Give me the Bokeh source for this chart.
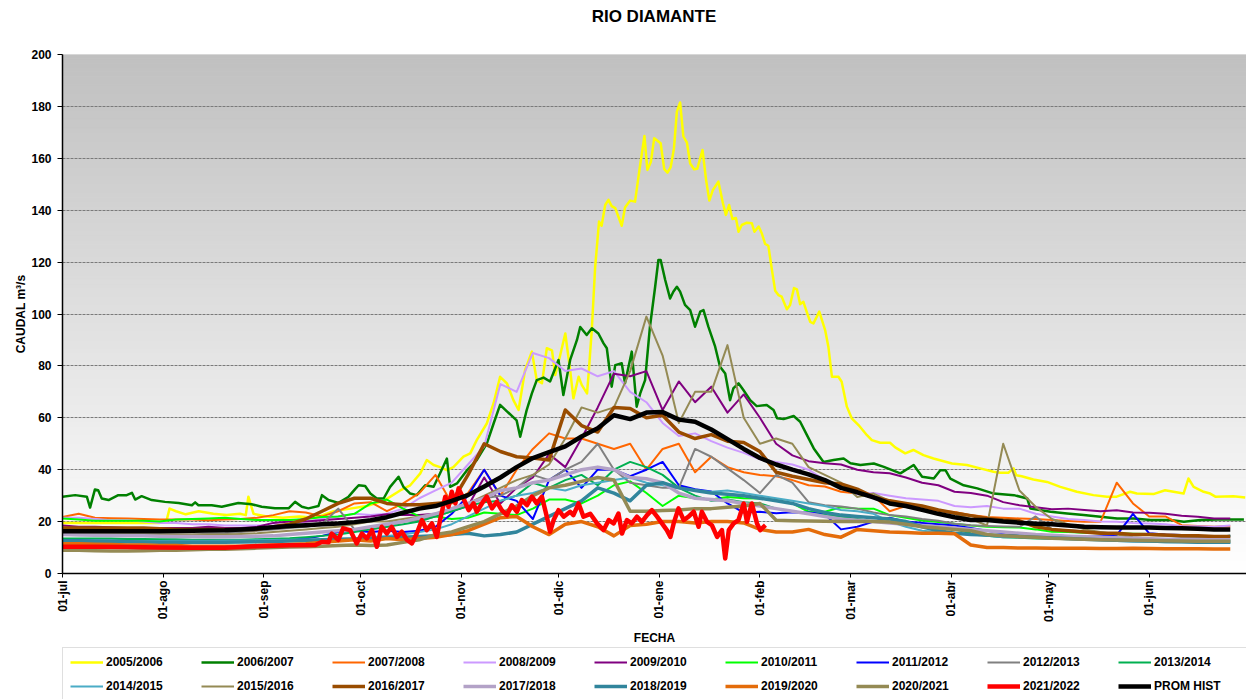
import numpy as np
from bokeh.plotting import figure
from bokeh.models import Range1d, FixedTicker, Legend, LegendItem, Div
from bokeh.layouts import column
from bokeh.embed import file_html
from bokeh.resources import INLINE

# ---------------- data ----------------
TITLE = "RIO DIAMANTE"
MONTH_TICKS = [0, 31, 62, 92, 123, 153, 184, 215, 243, 274, 304, 335]
MONTH_LABELS = ["01-jul", "01-ago", "01-sep", "01-oct", "01-nov", "01-dic",
                "01-ene", "01-feb", "01-mar", "01-abr", "01-may", "01-jun"]
Y_TICKS = list(range(0, 201, 20))

DAYS5 = list(range(0, 361, 5))   # day of hydrological year (0 = 01-jul)

Q_2005 = [(0,19.5),(10,19.5),(20,19.5),(30,19.5),(32,20),(33,25),(35,24),(38,22.8),(42,24),(46.5,23),
          (50.6,22.5),(54.7,23),(56.5,22.5),(57.3,29.6),(58.9,23),(63,22),(68,21.5),(73,22),(78,21.5),
          (83.6,24),(88.7,25),(93.8,26),(99,28),(104.1,32),(107.2,34),(110.3,38.6),(112.3,43.7),
          (114.4,41.8),(116.4,41),(118.5,39.8),(120.5,41),(123.6,45),(125.7,46.3),(127.7,51.4),
          (130.8,57.8),(132.9,65.6),(134.9,75.8),(137,73.3),(139,66.8),(140.6,63),(142.6,78.4),
          (144.7,85.5),(146.2,74.5),(147.8,73.3),(149.3,86.8),(150.9,86),(151.9,76.5),(153.4,84),
          (155,92.5),(156.5,78.4),(157.5,67.5),(159.1,75.8),(160.1,72.6),(161.7,69.4),(162.2,77),
          (163.2,94.5),(164.2,118),(165.4,135.6),(166.2,134),(167.3,142),(168.3,144),(169.3,141.6),
          (170.4,140.8),(172.4,134),(173.4,141),(175,143.7),(176.5,143.3),(178,156.8),(179.4,168.6),
          (180.3,155.5),(181.4,158.7),(182.4,167.7),(184.4,165.8),(185.5,155.8),(186.5,154.5),
          (187.5,156.6),(188.5,163.9),(189.4,178),(190.4,181.5),(191.4,168.4),(192.5,166),(193.5,158),
          (194.7,155.8),(195.7,156),(197.3,163.2),(198.4,151.7),(199.4,143.7),(200.5,147.8),(202.2,151),
          (203.6,142.7),(204.5,138.2),(205.5,142),(206.5,136.6),(207.6,137),(208.4,131.7),(209.4,134.3),
          (211,135.2),(212.5,135),(213.3,131.7),(214.6,133.7),(215.6,131),(216.6,127),(217.6,126.3),
          (218.7,117),(219.7,109),(220.7,107.3),(221.7,106.7),(223.3,101.8),(224.3,103.5),(225.5,110),
          (226.4,109.5),(227.4,103.8),(228.4,104.7),(229.4,100.9),(230.5,97),(231.5,96.4),(233.3,100.9),
          (235.1,93.8),(236.1,87.4),(237.2,75.8),(239.2,75.8),(240.2,73.9),(241.8,64.3),(243.3,59.8),
          (245.4,57.2),(248,53.3),(249.5,51.4),(252.1,50.4),(255.1,50.4),(256.7,48.6),(259.8,46.3),
          (262.3,47.6),(265.4,45.6),(268.5,44.3),(274.2,42.4),(278.8,41.8),(282.9,40.5),(287,39.2),
          (289.1,38.8),(291.6,38.8),(293.2,40.5),(294,37.9),(295.7,37.5),(299.3,36.2),(303.5,35.3),
          (307.6,33.4),(312.7,31.5),(317.8,30.2),(322,29.6),(325,29.6),(329.1,31.5),(331.2,30.8),
          (336.3,30.6),(339.9,32.1),(342.5,31.5),(345.6,30.8),(347.1,36.6),(348.7,33.4),(351.8,31.5),
          (353.8,30.8),(355.4,29.6),(361,29.8),(364.6,29.3)]

Q_2006 = [(0,29.6),(3.9,30.2),(7.5,29.6),(8.5,25.4),(10,32.4),(11,32.1),(12.1,28.9),(14.2,28.3),
          (17.2,30.2),(19.8,30.2),(21.4,31.1),(22.4,28.5),(24.4,29.8),(27.5,28.3),(31.6,27.6),
          (35.8,27.2),(39.9,26.3),(40.9,27.4),(41.9,26.3),(46,26.3),(49.1,25.7),(54.2,27.2),(58.3,26.7),
          (61.4,25.7),(65.5,25.1),(69.7,25.1),(71.7,27.6),(73.8,25.7),(75.8,25.1),(78.9,26),(80,30.2),
          (82,28.3),(85.1,27.2),(88.2,29.6),(90.2,32.5),(91.3,34),(93.3,33.7),(94.9,30.8),(96.9,28.9),
          (99,28.9),(101,33.4),(103.6,37.3),(105.1,33.4),(107.2,30.8),(109.2,30.2),(111.8,34),
          (114.4,33.4),(116.4,38.6),(118.5,44.3),(119.5,33.4),(121.6,34.7),(124.7,39.8),(127.7,43.7),
          (130.8,50.1),(132.9,57.8),(134.9,65),(137,62.5),(140,59),(141.1,52.7),(143.1,63),(144.7,69.4),
          (146.2,74.5),(148.3,75.5),(150.3,74),(152.9,82.3),(154.4,68.8),(156.5,82.3),(158.6,90),
          (159.6,95),(161.6,91.9),(163.2,94.5),(165.2,92.5),(166.8,88.7),(167.8,86.8),(169.3,72),
          (170.4,80.3),(172.4,81),(173.4,73.3),(175.5,85.5),(177,64.3),(178.1,69.4),(179.6,74.5),
          (181.1,95.1),(182.7,110.5),(183.7,120.8),(184.4,120.8),(185.8,113.1),(187.3,106),(188.3,108.6),
          (189.4,110.5),(190.4,108.6),(191.9,103.5),(193.5,101.5),(195,95.1),(196.6,100.9),(197.6,101.5),
          (199.1,95.1),(201.2,87.4),(202.7,79.7),(204.3,77.1),(205.8,66.8),(206.8,71.3),(208.4,73.3),
          (209.9,70.7),(212,66.8),(214,64.5),(217.1,64.9),(219.2,63),(220.3,59.8),(222.3,59.5),
          (225.4,60.7),(227.4,58.5),(229.5,53.3),(231.6,48.2),(234.6,43),(237.7,43.7),(240.8,44.3),
          (242.9,42.5),(246,41.8),(250.1,42.4),(253.2,41.1),(258.3,38.6),(262.4,41.8),(265,37.3),
          (268.6,36.6),(270.6,39.8),(272.2,39.8),(273.7,36.6),(277.8,34),(282,32.8),(287.1,30.8),
          (293.3,30.2),(297.4,28.9),(298.4,25),(304.6,23.8),(309.7,23.1),(314.8,22.5),(320,21.9),
          (325.1,21.2),(330.3,21.2),(335.4,20.6),(341.6,20.6),(345.7,19.9),(350.8,20.6),(356,20.8),
          (364.2,20.8)]

Q_2007 = [21.8, 23, 21.5, 21.3, 21.2, 21, 20.8, 20.8, 20.8, 20.5,
          20.8, 21, 21.5, 22.5, 24, 23.5, 22, 24, 27, 27.5,
          24, 27, 31, 38, 27, 31, 40, 30, 40, 48,
          54, 52, 52, 50, 48, 50, 40, 48, 50, 39,
          45, 41, 39, 38, 37.5, 36, 34, 33.5, 31.5, 30.8,
          30, 24, 26, 25, 24.2, 23.7, 22.5, 21.8, 21.5, 21.2,
          21, 20.6, 20.2, 19.9, 19.9, 35, 27, 22, 22, 18.6,
          18.3, 18, 18.2]
Q_2008 = [21.5, 21.5, 21, 20.5, 20.5, 20, 19.5, 19.5, 19, 19,
          18.5, 18.5, 18.5, 18.5, 19, 20, 21, 22, 23, 22.5,
          23, 25, 29, 32, 35, 42, 49, 73, 70, 85,
          83, 78, 79, 76, 78, 70, 66, 58, 53, 54,
          51, 48.5, 46.5, 44, 43, 42, 40, 36, 33, 30.5,
          31, 30, 29, 28.5, 28, 26, 25.5, 26, 25, 25,
          23, 22, 21, 20.6, 20, 19.9, 19.5, 19.3, 19, 18.3,
          18.2, 18, 18.5]
Q_2009 = [18.5, 18, 18, 17.8, 17.5, 17.5, 17.5, 17.5, 17.5, 18,
          17.5, 17.5, 18, 19.5, 20, 20, 20.5, 21, 21.5, 22,
          22.8, 22.5, 22.5, 23, 24, 26, 37, 27, 33, 37,
          46, 41, 52, 64, 77, 76, 78, 63, 74, 66,
          72, 62, 69, 60, 50, 45.5, 43.3, 42.5, 42, 40,
          39, 38.6, 37, 35, 34, 31.5, 31, 30, 27.5, 26.3,
          25.5, 24.8, 25, 24.5, 24, 24.4, 23.5, 23.4, 23, 22.3,
          21.9, 21.2, 21.2]
Q_2010 = [21.2, 20.8, 20.3, 20.3, 20.3, 20.3, 20, 20.8, 21, 21.2,
          21.5, 21, 20.6, 20.6, 20.6, 21, 21.8, 22, 23, 27,
          28.5, 25, 22, 22, 21, 21.5, 23.5, 23, 22.5, 25,
          28.5, 28.5, 27, 30, 34, 35.5, 31, 26, 30, 29,
          28.5, 29.5, 29, 28.9, 28.2, 27, 23.8, 23.8, 25.5, 25,
          25, 22.5, 21.5, 20.4, 19.8, 19.2, 18.5, 18, 17.8, 17.7,
          17, 16.1, 16, 15.7, 15.5, 15.4, 15.3, 15.2, 14.8, 14.4,
          14.3, 14.1, 14.5]
Q_2011 = [12.8, 12.8, 12.7, 12.7, 12.7, 12.6, 12.6, 12.6, 12.6, 12.5,
          12.5, 12.6, 12.7, 12.8, 13, 13.5, 14.5, 16, 16.5, 16,
          16.5, 16, 16.5, 18, 23, 30, 40, 30, 28, 21,
          36, 40, 33, 40, 40, 37.5, 40, 43, 34, 32.5,
          31.6, 27, 23.5, 23.8, 23.2, 23.6, 23.5, 22.8, 17, 18,
          20, 21.5, 20, 19.5, 19, 18.5, 17.5, 16.5, 15.5, 14.8,
          14.8, 14.8, 14.4, 14.1, 14.4, 14.8, 23, 15.5, 15, 14.8,
          14.5, 14.1, 14.5]
Q_2012 = [15, 15, 15, 15, 15, 15, 15, 15, 15, 15.3,
          15.5, 16, 16.5, 17, 17.5, 18, 19, 25, 17, 17,
          18, 20, 20.5, 22, 24, 27, 29, 30, 33, 38,
          36, 40, 43, 50, 40, 35, 34, 33, 33, 48,
          45, 40.5, 36, 31, 38, 35, 27.5, 26.3, 25.8, 25,
          23.5, 22.5, 22, 21, 20.3, 19.2, 18.6, 18.3, 18.1, 18,
          22, 17, 16.7, 16.3, 15.8, 15.4, 15, 14.8, 14.5, 14.1,
          14, 14, 14]
Q_2013 = [13.5, 13.5, 13.5, 13.5, 13.3, 13.3, 13.2, 13.2, 13, 13,
          13, 13, 13.2, 13.4, 13.6, 14, 14.5, 15, 16, 17,
          18, 19, 20, 22, 24, 26, 27.5, 28, 30, 35,
          33, 36, 38, 34, 40, 43, 41, 38, 33, 30,
          28, 28.5, 27.5, 27, 25, 24, 23, 22.5, 22, 21,
          20, 19.5, 19, 18.5, 18, 17, 15.5, 14.5, 14, 13.8,
          13.5, 13.5, 13.3, 13.3, 13.2, 13.2, 13, 13, 13, 12.9,
          12.8, 12.8, 12.8]
Q_2014 = [12.5, 12.5, 12.5, 12.5, 12.5, 12.5, 12.5, 12.6, 12.6, 12.6,
          12.7, 12.7, 12.8, 12.9, 13, 13.1, 13.2, 13.3, 13.5, 14,
          14.5, 15, 16, 17, 19, 22, 25, 28, 30, 31,
          33, 32, 34, 35, 36, 37, 35, 34, 33, 32,
          31.5, 32, 31, 30, 29, 28, 27, 26, 24.5, 24,
          23, 20, 18, 16.5, 16, 15.5, 15, 14.5, 14, 14,
          13.8, 13.5, 13.2, 13, 12.8, 12.5, 12.3, 12.2, 12, 12,
          11.9, 11.8, 11.8]
Q_2015 = [15, 15, 15, 15, 15, 15, 15, 15, 15, 15,
          15, 15.2, 15.5, 16, 16.5, 17, 17.5, 18, 19, 20,
          20, 21, 22, 23, 25, 27, 30, 33, 36, 38,
          42, 52, 64, 62, 64, 78, 99, 84, 58, 70,
          70, 88, 60, 50, 52, 50, 41, 38, 35, 29.5,
          30.8, 28, 27, 26, 24.5, 23, 21, 18.5, 50, 32,
          25.7, 21, 19, 17, 16, 15, 14, 13.5, 13, 12.8,
          12.5, 12.3, 12.2]
Q_2016 = [17.5, 17.5, 17.5, 17.5, 17.5, 17.5, 17.2, 17, 17, 17,
          17, 17, 17, 18, 19, 21, 24, 27, 29, 29,
          27, 26.5, 26.5, 27, 27.5, 38, 50, 47, 45, 44.5,
          43.7, 63, 57, 54.5, 64, 63.6, 60, 61, 54.5, 52,
          53.5, 51, 50.5, 47, 39, 37.5, 36.2, 35, 34.5, 32.5,
          29.5, 28, 27, 26, 24.5, 23.3, 22.3, 21.2, 20.6, 20.3,
          18, 17, 16.5, 16, 15.5, 15.5, 15, 15, 14.8, 14.5,
          14.5, 14.3, 14.3]
Q_2017 = [15, 14.8, 14.7, 14.6, 14.5, 14.5, 14.4, 14.3, 14.3, 14.2,
          14.2, 14.3, 14.4, 14.5, 15, 15.5, 16, 16.5, 17, 18,
          19, 20, 21.5, 23, 25, 27, 29, 32, 33, 35,
          36, 38, 40, 41, 40, 37, 36.5, 35, 31, 29,
          28.5, 28, 27, 26, 25, 24, 23, 22, 21, 20.5,
          20, 19.5, 19, 18.5, 18, 17.5, 17, 16.5, 16, 15.5,
          15, 14.7, 14.4, 14.2, 14, 13.8, 13.6, 13.4, 13.2, 13.1,
          13, 13, 13]
Q_2018 = [12.5, 12.4, 12.3, 12.2, 12.2, 12.1, 12, 12, 12, 12,
          12, 12.1, 12.2, 12.3, 12.5, 12.7, 13, 13.2, 13.3, 13.5,
          13.8, 14, 14.3, 14.5, 15, 15.5, 14.5, 15, 16, 19,
          22, 25, 28, 33, 31, 28, 34, 35, 33, 32,
          31, 30.5, 30, 29, 28, 27, 25, 23.5, 22.5, 22,
          21.5, 21, 20, 18, 16.5, 15.5, 15, 14.8, 14.5, 14.3,
          14, 13.7, 13.5, 13.2, 13, 12.8, 12.6, 12.5, 12.3, 12.2,
          12, 12, 12]
Q_2019 = [11.5, 11.5, 11.3, 11.2, 11, 11, 10.8, 10.8, 10.5, 10.5,
          10.5, 10.5, 10.8, 11, 11.2, 11.5, 12, 12.5, 13, 12.5,
          13.5, 13, 13.5, 14, 15, 16.5, 19, 21.5, 22, 18,
          15, 19, 20, 18, 14.5, 18.5, 19, 20, 20, 19.5,
          20, 20, 19.5, 17, 16, 16, 17, 15, 14, 17,
          16.5, 16, 15.8, 15.5, 15.5, 15.3, 11, 10, 10, 9.8,
          9.8, 9.7, 9.7, 9.7, 9.6, 9.6, 9.7, 9.6, 9.5, 9.5,
          9.5, 9.4, 9.4]
Q_2020 = [9, 9, 8.8, 8.7, 8.7, 8.8, 9, 9, 9.2, 9.3,
          9.3, 9.5, 9.8, 10, 10.2, 10.3, 10.5, 10.8, 11, 10.8,
          11, 12, 13, 15, 16, 18, 20, 23, 26, 30,
          33, 34, 35.5, 37, 36, 24, 24, 24.3, 24.5, 25,
          25, 25.5, 26, 27, 20.5, 20.3, 20.2, 20.1, 20, 20,
          20, 19.8, 19, 18, 17.5, 17, 16.5, 15, 14.5, 14.2,
          14, 13.6, 13.4, 13.2, 13, 12.9, 12.8, 12.7, 12.6, 12.5,
          12.4, 12.4, 12.4]

R_DAYS = [0, 10, 20, 30, 40, 50, 60, 70, 78, 80, 82, 83, 85, 86.5, 88.7, 90.7, 92.3, 93.8, 95.4, 96.9,
          98.4, 100, 101.5, 103.1, 104.6, 106.2, 107.7, 109.2, 110.8, 112.3, 113.9, 115.4, 116.4, 118, 119,
          120, 121.1, 122.1, 123.6, 125.2, 126.7, 127.7, 129.3, 130.8, 132.4, 133.9, 135.4, 137, 138.5, 140.1,
          141.6, 143.2, 144.7, 146.2, 147.8, 149.3, 150.3, 151.4, 152.9, 154.5, 156.5, 157.5, 159.1, 160.6,
          162.7, 164.8, 166.8, 168.4, 169.9, 171.4, 172.5, 174, 175.5, 177.1, 178.6, 180.2, 181.7, 183.3,
          184.8, 186.3, 187.4, 188.4, 189.9, 191.5, 193, 194.6, 196.1, 197.1, 198.7, 200.2, 201.8, 203.3,
          204.3, 205.4, 206.9, 208.4, 210, 211, 212.5, 214.1, 215.1, 216.7]
R_VALS = [10.3, 10.3, 10.2, 10, 9.9, 9.9, 10.5, 10.9, 11, 12.2, 12, 15.4, 12.9, 17.4, 16.7, 11.6, 15.4, 13.5,
          16.7, 10.3, 18, 15.4, 18, 14.1, 16.1, 12.9, 11.6, 15.4, 20.6, 16.7, 19.3, 14.1, 20.6, 29.6, 25.7,
          31.5, 27, 32.8, 28.9, 24.4, 27, 23.8, 27, 29.6, 25.1, 27.6, 24.4, 22.5, 26.3, 23.8, 28.3, 26.3, 29.6,
          27, 29.6, 21.9, 16.1, 20.6, 24.4, 21.9, 23.8, 22.5, 27, 21.9, 23, 19.3, 16.7, 20.6, 19.3, 23.1, 15.4,
          20.6, 19.3, 21.9, 19.9, 22.5, 24.4, 21.9, 19.3, 16.7, 14.1, 19.3, 25.1, 20.6, 21.9, 23.8, 18, 23.8,
          19.9, 18.6, 14.1, 16.7, 5.8, 16.7, 19.3, 20.6, 27, 19.9, 27, 19.3, 16.7, 18.6]

Q_PROM = [16.3, 16.3, 16.3, 16.3, 16.3, 16.3, 16.3, 16.4, 16.5, 16.6,
          16.7, 17, 17.3, 17.8, 18.3, 18.6, 19, 19.3, 19.8, 20.5,
          21.7, 23.4, 25, 26, 28, 30.2, 33.5, 37, 41, 44.5,
          46.8, 49, 52.8, 56, 61, 59.5, 62, 62.2, 59.3, 58.5,
          55.5, 51.8, 48, 44.5, 42, 40, 38.2, 36, 33, 31.3,
          29.3, 27, 26, 24.5, 23, 21.7, 20.6, 20.6, 20, 19.6,
          19.2, 19, 18.5, 18, 17.8, 17.7, 17.7, 17.7, 17.5, 17.4,
          17.2, 17, 17]

# ---------------- series table (data + style) ----------------
def pairs(p):
    return [d for d, _ in p], [v for _, v in p]

SERIES = [
    ("2005/2006", *pairs(Q_2005), "#ffff00", 2.5),
    ("2006/2007", *pairs(Q_2006), "#008000", 2.5),
    ("2007/2008", DAYS5, Q_2007, "#ff6600", 2),
    ("2008/2009", DAYS5, Q_2008, "#cc99ff", 2),
    ("2009/2010", DAYS5, Q_2009, "#800080", 2),
    ("2010/2011", DAYS5, Q_2010, "#00ff00", 2),
    ("2011/2012", DAYS5, Q_2011, "#0000ff", 2),
    ("2012/2013", DAYS5, Q_2012, "#808080", 2),
    ("2013/2014", DAYS5, Q_2013, "#00b050", 2),
    ("2014/2015", DAYS5, Q_2014, "#4bacc6", 2),
    ("2015/2016", DAYS5, Q_2015, "#948a54", 2),
    ("2016/2017", DAYS5, Q_2016, "#994c00", 3.5),
    ("2017/2018", DAYS5, Q_2017, "#b3a2c7", 3.5),
    ("2018/2019", DAYS5, Q_2018, "#31859c", 3.5),
    ("2019/2020", DAYS5, Q_2019, "#e46c0a", 3.5),
    ("2020/2021", DAYS5, Q_2020, "#948a54", 3.5),
    ("2021/2022", R_DAYS, R_VALS, "#ff0000", 4.5),
    ("PROM HIST", DAYS5, Q_PROM, "#000000", 4.5),
]

FONT = "Liberation Sans"
FRAME_W, FRAME_H = 1184, 519
LEFT = 62
TITLE_H = 42
LEG_FIG_H = 53

# ---------------- title ----------------
title_div = Div(text=TITLE, width=FRAME_W, height=TITLE_H, margin=(0, 0, 0, LEFT),
                styles={"font-family": "'Liberation Sans', Arial, sans-serif",
                        "font-size": "17px", "font-weight": "bold", "color": "black",
                        "text-align": "center", "line-height": "34px"})

# ---------------- main plot ----------------
p = figure(frame_width=FRAME_W, frame_height=FRAME_H, title=None,
           x_range=Range1d(0, 365), y_range=Range1d(0, 200),
           output_backend="svg", toolbar_location=None,
           min_border_left=LEFT, min_border_right=0, min_border_top=12, min_border_bottom=73,
           background_fill_color="white", border_fill_color="white", margin=(0, 0, 0, 0))
p.outline_line_color = None

# gradient background of plot area (grey at top -> white at bottom)
NB = 120
y0, y1 = p.y_range.start, p.y_range.end
edges = np.linspace(y0, y1, NB + 1)
shade = np.linspace(255, 192, NB)
cols = []
for s in shade:
    g = int(round(s))
    cols.append("#%02x%02x%02x" % (g, g, g))
p.quad(left=p.x_range.start, right=p.x_range.end, bottom=edges[:-1], top=edges[1:],
       fill_color=cols, line_color=cols, line_width=1, level="image")

# grid
p.xgrid.visible = False
p.ygrid.ticker = FixedTicker(ticks=Y_TICKS)
p.ygrid.grid_line_color = "#7a7a7a"
p.ygrid.grid_line_dash = "3 1"
p.ygrid.grid_line_width = 1

# axes
for ax in (p.xaxis[0], p.yaxis[0]):
    ax.axis_line_color = "black"
    ax.axis_line_width = 1.5
    ax.major_tick_line_color = "black"
    ax.major_tick_in = 0
    ax.minor_tick_line_color = None
    ax.major_label_text_font = FONT
    ax.major_label_text_font_size = "12px"
    ax.major_label_text_font_style = "bold"
    ax.major_label_text_color = "black"
    ax.axis_label_text_font = FONT
    ax.axis_label_text_font_size = "12px"
    ax.axis_label_text_font_style = "bold"
    ax.axis_label_text_color = "black"

p.xaxis.ticker = FixedTicker(ticks=MONTH_TICKS)
p.xaxis.major_label_overrides = {t: l for t, l in zip(MONTH_TICKS, MONTH_LABELS)}
p.xaxis.major_label_orientation = np.pi / 2
p.xaxis.major_tick_out = 4
p.xaxis.major_label_standoff = 3
p.xaxis.axis_label = "FECHA"
p.xaxis.axis_label_standoff = 6

p.yaxis.ticker = FixedTicker(ticks=Y_TICKS)
p.yaxis.major_tick_out = 5
p.yaxis.major_label_standoff = 6
p.yaxis.axis_label = "CAUDAL m³/s"
p.yaxis.axis_label_standoff = 0

for name, xs, ys, color, width in SERIES:
    n = min(len(xs), len(ys))
    p.line(x=list(xs[:n]), y=list(ys[:n]), line_color=color, line_width=width, line_join="round")

# ---------------- legend strip (own small figure under the plot) ----------------
# the same series are drawn here too, but the view range lies outside the data,
# so only the legend of this strip is visible
lg = figure(frame_width=FRAME_W, frame_height=LEG_FIG_H, title=None,
            x_range=Range1d(0, 365), y_range=Range1d(-20, -10),
            x_axis_location=None, y_axis_location=None,
            output_backend="svg", toolbar_location=None,
            min_border_left=LEFT, min_border_right=0, min_border_top=0, min_border_bottom=0,
            background_fill_color="white", border_fill_color="white", margin=(0, 0, 0, 0))
lg.outline_line_color = None
lg.grid.visible = False

items = []
for name, xs, ys, color, width in SERIES:
    n = min(len(xs), len(ys))
    r = lg.line(x=list(xs[:n]), y=list(ys[:n]), line_color=color, line_width=width)
    items.append(LegendItem(label=name, renderers=[r]))

legend = Legend(items=items, orientation="horizontal", ncols=9, location="top_left")
legend.glyph_width = 33
legend.glyph_height = 14
legend.label_height = 14
legend.label_width = 85
legend.label_standoff = 3
legend.spacing = 10
legend.padding = 7
legend.margin = 0
legend.label_text_font = FONT
legend.label_text_font_size = "12px"
legend.label_text_font_style = "bold"
legend.label_text_color = "black"
legend.border_line_color = "#bfbfbf"
legend.border_line_width = 1
legend.background_fill_color = "white"
legend.background_fill_alpha = 1
lg.add_layout(legend)

layout = column(title_div, p, lg, spacing=0)
open("out.html", "w").write(file_html(layout, INLINE))
